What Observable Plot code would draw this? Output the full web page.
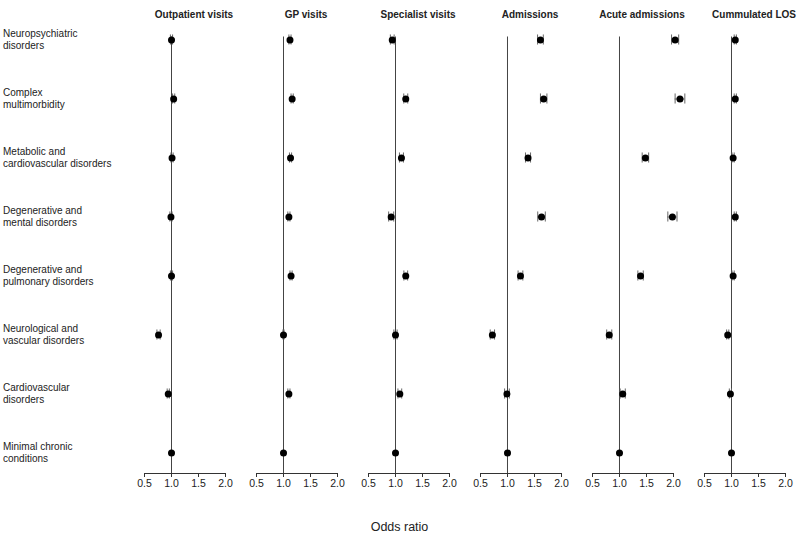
<!DOCTYPE html>
<html>
<head>
<meta charset="utf-8">
<script src="https://cdn.jsdelivr.net/npm/d3@7"></script>
<script src="https://cdn.jsdelivr.net/npm/@observablehq/plot@0.6"></script>
<style>
  html, body { margin: 0; padding: 0; background: white; overflow: hidden; }
  #chart svg { display: block; }
  #caption { width: 799px; height: 30px; box-sizing: border-box; padding-top: 15px; text-align: center;
    font-family: "Liberation Sans", Arial, sans-serif; font-size: 12.5px; line-height: 14px; color: #222; }
</style>
</head>
<body>
<div id="chart"></div>
<div id="caption">Odds ratio</div>
<script>
const categories = [
  "Neuropsychiatric disorders", "Complex multimorbidity", "Metabolic and cardiovascular disorders",
  "Degenerative and mental disorders", "Degenerative and pulmonary disorders",
  "Neurological and vascular disorders", "Cardiovascular disorders", "Minimal chronic conditions"
];
const categoryLabels = [
  "Neuropsychiatric\ndisorders", "Complex\nmultimorbidity", "Metabolic and\ncardiovascular disorders",
  "Degenerative and\nmental disorders", "Degenerative and\npulmonary disorders",
  "Neurological and\nvascular disorders", "Cardiovascular\ndisorders", "Minimal chronic\nconditions"
];
const panels = ["Outpatient visits", "GP visits", "Specialist visits", "Admissions", "Acute admissions", "Cummulated LOS"];
const xTicks = [0.5, 1.0, 1.5, 2.0];

// Odds ratios and confidence limits per outcome (last category = reference)
const outpatientOR = [1.00, 1.04, 1.01, 0.99, 1.00, 0.76, 0.94, 1.00];
const outpatientLo = [0.98, 1.02, 0.99, 0.97, 0.98, 0.73, 0.92, null];
const outpatientHi = [1.02, 1.06, 1.03, 1.01, 1.02, 0.79, 0.96, null];

const gpOR = [1.12, 1.16, 1.13, 1.10, 1.14, 1.00, 1.10, 1.00];
const gpLo = [1.10, 1.14, 1.11, 1.08, 1.12, 0.99, 1.08, null];
const gpHi = [1.14, 1.18, 1.15, 1.12, 1.16, 1.01, 1.12, null];

const specialistOR = [0.94, 1.19, 1.11, 0.92, 1.19, 1.00, 1.08, 1.00];
const specialistLo = [0.905, 1.153, 1.073, 0.873, 1.155, 0.97, 1.045, null];
const specialistHi = [0.975, 1.227, 1.147, 0.967, 1.225, 1.03, 1.115, null];

const admissionsOR = [1.61, 1.67, 1.38, 1.63, 1.24, 0.72, 0.99, 1.00];
const admissionsLo = [1.557, 1.61, 1.333, 1.56, 1.196, 0.68, 0.946, null];
const admissionsHi = [1.663, 1.73, 1.427, 1.70, 1.284, 0.76, 1.034, null];

const acuteOR = [2.03, 2.12, 1.48, 1.98, 1.39, 0.81, 1.06, 1.00];
const acuteLo = [1.964, 2.03, 1.42, 1.895, 1.34, 0.763, 1.013, null];
const acuteHi = [2.096, 2.21, 1.54, 2.065, 1.44, 0.857, 1.107, null];

const losOR = [1.07, 1.07, 1.03, 1.07, 1.03, 0.93, 0.98, 1.00];
const losLo = [1.05, 1.05, 1.01, 1.05, 1.01, 0.91, 0.96, null];
const losHi = [1.09, 1.09, 1.05, 1.09, 1.05, 0.95, 1.00, null];

const series = [
  [outpatientOR, outpatientLo, outpatientHi],
  [gpOR, gpLo, gpHi],
  [specialistOR, specialistLo, specialistHi],
  [admissionsOR, admissionsLo, admissionsHi],
  [acuteOR, acuteLo, acuteHi],
  [losOR, losLo, losHi]
];

const rows = [];
panels.forEach((panel, p) => {
  const [or, lo, hi] = series[p];
  categories.forEach((category, i) => {
    rows.push({panel, category, or: or[i], lo: lo[i], hi: hi[i]});
  });
});
const ciRows = rows.filter(d => d.lo != null);

// band layout: row centres from 36.5 to 456
const step = (456 - 36.5) / (categories.length - 1);
const capInset = (step - 11) / 2;

const chart = Plot.plot({
  width: 799,
  height: 505,
  marginLeft: 142.7,
  marginRight: 12.3,
  marginTop: 30,
  marginBottom: 32,
  style: {fontFamily: "'Liberation Sans', Arial, sans-serif", fontSize: "10px", color: "#222", background: "white"},
  fx: {domain: panels, paddingInner: 0.28, paddingOuter: 0, axis: null},
  x: {domain: [0.5, 2.0]},
  y: {type: "band", domain: categories, range: [36.5 - step / 2, 456 + step / 2], padding: 0},
  marks: [
    Plot.ruleX([1], {insetTop: 6.5, stroke: "#444", strokeWidth: 1}),
    Plot.ruleY(ciRows, {fx: "panel", y: "category", x1: "lo", x2: "hi", stroke: "#555"}),
    Plot.tickX(ciRows, {fx: "panel", x: "lo", y: "category", stroke: "#666", insetTop: capInset, insetBottom: capInset}),
    Plot.tickX(ciRows, {fx: "panel", x: "hi", y: "category", stroke: "#666", insetTop: capInset, insetBottom: capInset}),
    Plot.dot(rows, {fx: "panel", x: "or", y: "category", r: 3.5, fill: "black"}),
    Plot.frame({anchor: "bottom", stroke: "#333"}),
    Plot.axisX({ticks: xTicks, tickFormat: d3.format(".1f"), tickSize: 4, tickPadding: 2, label: null, fontSize: 10.5, stroke: "#333"}),
    Plot.axisY({tickSize: 0, tickPadding: 0, textAnchor: "start", dx: -141.5, dy: -0.5, lineHeight: 1.12, label: null, fontSize: 10,
      tickFormat: d => categoryLabels[categories.indexOf(d)]}),
    Plot.text(panels, {fx: d => d, text: d => d, frameAnchor: "top", dy: -20, dx: 9, fontWeight: "bold", fontSize: 10})
  ]
});
document.getElementById("chart").appendChild(chart);
</script>
</body>
</html>
